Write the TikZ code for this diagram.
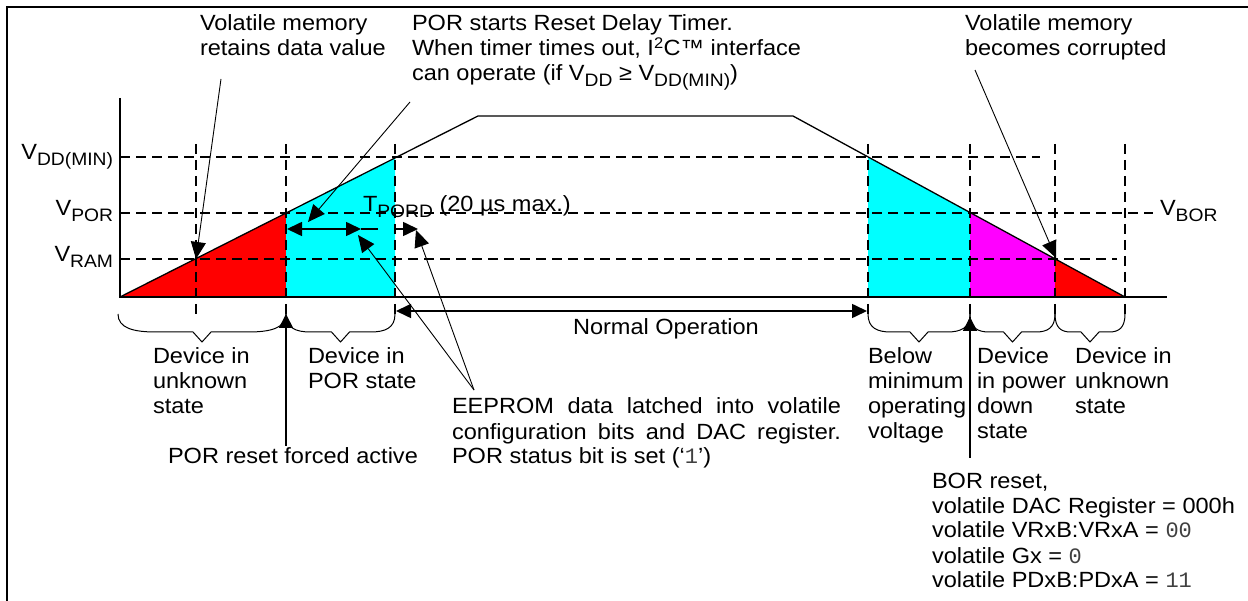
\documentclass[tikz,border=0pt]{standalone}
\usepackage{fontspec}
\setmainfont{Liberation Sans}[FakeStretch=1.07]
\setmonofont{Liberation Mono}
\usetikzlibrary{arrows.meta}
\definecolor{cyanf}{RGB}{0,255,255}
\definecolor{redf}{RGB}{255,0,0}
\definecolor{magf}{RGB}{255,0,255}
\newcommand\sbx[1]{\raisebox{-6pt}{\fontsize{18}{18}\selectfont #1}}
\newcommand\mono[1]{{\ttfamily\color{black!75}#1}}
\newcommand\rows[1]{\vtop{\baselineskip=25pt\lineskiplimit=-20pt\halign{##\hfil\cr#1\crcr}}}
\newcommand\mybrace[2]{%
  \pgfmathsetmacro\bxa{#1}\pgfmathsetmacro\bxb{#2}%
  \pgfmathsetmacro\bxm{(#1+#2)/2}%
  \pgfmathsetmacro\bc{0.45*(#2-#1)/2}%
  \draw[brc] (\bxa,314) .. controls (\bxa,328) and (\bxa+0.4*\bc,332) .. (\bxa+\bc,332)
    -- (\bxm-9,332) -- (\bxm,342) -- (\bxm+9,332) -- (\bxb-\bc,332)
    .. controls (\bxb-0.4*\bc,332) and (\bxb,328) .. (\bxb,314);}
\begin{document}
\begin{tikzpicture}[x=1pt,y=-1pt,
  txt/.style={inner sep=0pt,outer sep=0pt,font=\fontsize{22}{25}\selectfont},
  dsh/.style={line width=1.6pt,dash pattern=on 10pt off 6pt},
  axisl/.style={line width=1.7pt},
  ramp/.style={line width=1.3pt},
  thinarrow/.style={line width=0.9pt,-{Triangle[length=17pt,width=15pt]}},
  boldarrow/.style={line width=1.7pt,-{Triangle[length=14pt,width=14pt]}},
  botharrow/.style={line width=1.6pt,{Triangle[length=15pt,width=14pt]}-{Triangle[length=15pt,width=14pt]}},
  brc/.style={line width=1pt}]
\useasboundingbox (0,0) rectangle (1248,601);
\fill[white] (0,0) rectangle (1248,601);
\draw[line width=2pt] (7,620) -- (7,7) -- (1260,7);

% fills
\fill[redf] (120,297) -- (286,213) -- (286,297) -- cycle;
\fill[cyanf] (286,297) -- (286,213) -- (395,157.9) -- (395,297) -- cycle;
\fill[cyanf] (868,297) -- (868,157) -- (970,212.6) -- (970,297) -- cycle;
\fill[magf] (970,297) -- (970,212.6) -- (1055,258.9) -- (1055,297) -- cycle;
\fill[redf] (1055,297) -- (1055,258.9) -- (1125,297) -- cycle;

% dashed levels
\draw[dsh] (120,157) -- (1040,157);
\draw[dsh] (120,213) -- (1153,213);
\draw[dsh] (120,259) -- (1117,259);
\foreach \x in {196,286,395,868,970,1055,1125} \draw[dsh] (\x,144) -- (\x,317);

% axes and supply curve
\draw[axisl] (120,98) -- (120,297) -- (1167,297);
\draw[ramp] (120,297) -- (478,116) -- (793,116) -- (1125,297);

% braces
\mybrace{118}{286}
\mybrace{286}{395}
\mybrace{868}{970}
\mybrace{970}{1055}
\mybrace{1055}{1125}

% axis labels
\node[txt,anchor=base east] (vdd) at (113,160) {V\sbx{DD(MIN)}};
\node[txt,anchor=base east] (vpor) at (113,216) {V\sbx{POR}};
\node[txt,anchor=base east] (vram) at (113,262) {V\sbx{RAM}};
\node[txt,anchor=base west] (vbor) at (1160,216) {V\sbx{BOR}};

% top annotations
\node[txt,anchor=base west] (retain) at (200,31) {\rows{Volatile memory\cr retains data value}};
\node[txt,anchor=base west] (porst) at (412,31) {\rows{POR starts Reset Delay Timer.\cr When timer times out, I\textsuperscript{2}C™ interface\cr can operate (if V\sbx{DD} ≥ V\sbx{DD(MIN)})}};
\node[txt,anchor=base west] (corr) at (965,31) {\rows{Volatile memory\cr becomes corrupted}};

\coordinate (retS) at (221,79);
\coordinate (retE) at (196,259);
\draw[thinarrow] (retS) -- (retE);
\coordinate (porS) at (410,102);
\coordinate (porE) at (308,222);
\draw[thinarrow] (porS) -- (porE);
\coordinate (corS) at (975,70);
\coordinate (corE) at (1056,258);
\draw[thinarrow] (corS) -- (corE);

% T_PORD
\node[txt,anchor=base west] (tpord) at (363,212) {T\sbx{PORD} (20 µs max.)};
\coordinate (tpA) at (287,229);
\coordinate (tpB) at (361,229);
\coordinate (tpC) at (378,229);
\coordinate (tpD) at (396,229);
\coordinate (tpE) at (418,229);
\draw[botharrow] (tpA) -- (tpB);
\draw[line width=1.6pt] (tpB) -- (tpC);
\draw[line width=1.6pt,-{Triangle[length=15pt,width=14pt]}] (tpD) -- (tpE);

% EEPROM arrows
\coordinate (eepJ) at (474,390);
\coordinate (eepA) at (358,235);
\coordinate (eepB) at (416,230);
\draw[thinarrow] (eepJ) -- (eepA);
\draw[thinarrow] (eepJ) -- (eepB);

% Normal operation
\coordinate (noA) at (396,311);
\coordinate (noB) at (867,311);
\draw[botharrow] (noA) -- (noB);
\node[txt,anchor=base west] (normal) at (573,335) {Normal Operation};

% brace labels
\node[txt,anchor=base west] (l1) at (153,364) {\rows{Device in\cr unknown\cr state}};
\node[txt,anchor=base west] (l2) at (308,364) {\rows{Device in\cr POR state}};
\node[txt,anchor=base west] (l3) at (868,364) {\rows{Below\cr minimum\cr operating\cr voltage}};
\node[txt,anchor=base west] (l4) at (977,364) {\rows{Device\cr in power\cr down\cr state}};
\node[txt,anchor=base west] (l5) at (1075,364) {\rows{Device in\cr unknown\cr state}};

% POR reset arrow
\coordinate (porrB) at (286,446);
\coordinate (porrT) at (286,314);
\draw[boldarrow] (porrB) -- (porrT);
\node[txt,anchor=base west] (porr) at (168,464) {POR reset forced active};

% EEPROM text
\node[txt,anchor=base west] (eep) at (452,414) {\vtop{\hsize=389pt\baselineskip=25pt\parindent=0pt\noindent EEPROM data latched into volatile\linebreak configuration bits and DAC register.\linebreak POR status bit is set (‘\mono{1}’)\par}};

% BOR arrow
\coordinate (borB) at (970,458);
\coordinate (borT) at (970,317);
\draw[boldarrow] (borB) -- (borT);
\node[txt,anchor=base west] (bor) at (932,488) {\rows{BOR reset,\cr volatile DAC Register = 000h\cr volatile VRxB:VRxA = \mono{00}\cr volatile Gx = \mono{0}\cr volatile PDxB:PDxA = \mono{11}}};
\end{tikzpicture}
\end{document}
